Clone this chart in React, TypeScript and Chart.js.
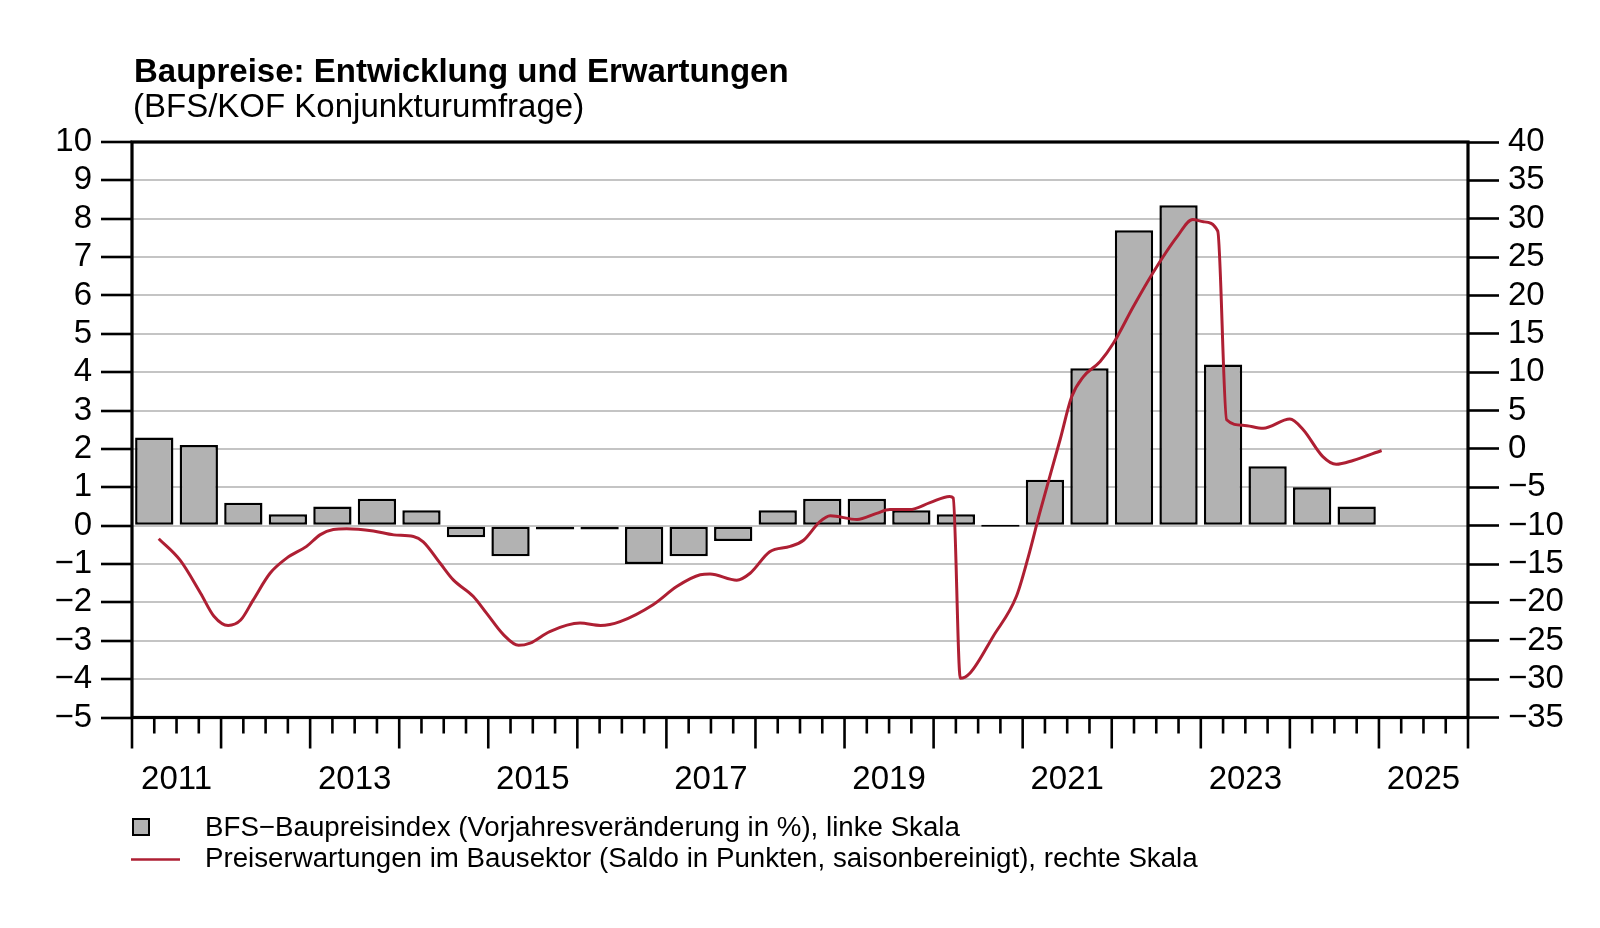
import React, { useEffect, useRef } from 'react';
import { Chart, registerables } from 'chart.js';

Chart.register(...registerables);

const FONT = "'Liberation Sans', Arial, Helvetica, sans-serif";

const titleText = 'Baupreise: Entwicklung und Erwartungen';
const subtitleText = '(BFS/KOF Konjunkturumfrage)';
const legendBarsText = 'BFS\u2212Baupreisindex (Vorjahresveränderung in %), linke Skala';
const legendLineText = 'Preiserwartungen im Bausektor (Saldo in Punkten, saisonbereinigt), rechte Skala';

// Half-year periods (centre of each half-year)
const barPeriods = [
  2011.25, 2011.75, 2012.25, 2012.75, 2013.25, 2013.75, 2014.25, 2014.75,
  2015.25, 2015.75, 2016.25, 2016.75, 2017.25, 2017.75, 2018.25, 2018.75,
  2019.25, 2019.75, 2020.25, 2020.75, 2021.25, 2021.75, 2022.25, 2022.75,
  2023.25, 2023.75, 2024.25, 2024.75,
];
// BFS-Baupreisindex, Vorjahresveränderung in % (left scale)
const barValues = [
  2.3, 2.1, 0.6, 0.3, 0.5, 0.7, 0.4, -0.3,
  -0.8, -0.1, -0.1, -1.0, -0.8, -0.4, 0.4, 0.7,
  0.7, 0.4, 0.3, 0.0, 1.2, 4.1, 7.7, 8.35,
  4.2, 1.55, 1.0, 0.5,
];

// Preiserwartungen im Bausektor (right scale)
const lineX = [
  2011.30, 2011.54, 2011.77, 2011.92, 2012.08, 2012.22, 2012.36, 2012.55, 2012.74, 2012.96,
  2013.11, 2013.26, 2013.41, 2013.71, 2013.94, 2014.16, 2014.27, 2014.46, 2014.61, 2014.83,
  2014.98, 2015.17, 2015.34, 2015.47, 2015.69, 2016.03, 2016.26, 2016.48, 2016.85, 2017.12,
  2017.38, 2017.49, 2017.79, 2017.94, 2018.16, 2018.39, 2018.54, 2018.72, 2018.84, 2019.14,
  2019.36, 2019.51, 2019.73, 2019.96, 2020.18, 2020.22, 2020.30, 2020.41, 2020.67, 2020.93,
  2021.06, 2021.19, 2021.42, 2021.55, 2021.68, 2021.87, 2022.02, 2022.24, 2022.46, 2022.73,
  2022.91, 2023.03, 2023.19, 2023.29, 2023.47, 2023.70, 2024.00, 2024.15, 2024.37, 2024.52,
  2024.71, 2025.03,
];
const lineValues = [
  -11.7, -14.5, -18.8, -21.8, -23.0, -22.3, -19.7, -16.2, -14.2, -12.7,
  -11.2, -10.5, -10.4, -10.7, -11.2, -11.4, -12.1, -14.9, -17.1, -19.2,
  -21.4, -24.2, -25.6, -25.3, -23.8, -22.7, -23.0, -22.5, -20.3, -17.9,
  -16.4, -16.3, -17.1, -16.2, -13.4, -12.7, -11.9, -9.5, -8.7, -9.2,
  -8.4, -7.9, -7.9, -7.0, -6.2, -6.4, -29.9, -29.2, -24.4, -19.2,
  -14.2, -8.4, 1.2, 6.8, 9.4, 11.4, 13.8, 18.5, 22.9, 27.6,
  29.9, 29.6, 28.4, 3.8, 3.1, 2.7, 3.9, 2.5, -1.0, -2.0,
  -1.5, -0.2,
];

// Year labels, placed in the middle of each labelled year
const yearLabels = [2011, 2013, 2015, 2017, 2019, 2021, 2023, 2025];

const xMin = 2011;
const xMax = 2026;
const leftMin = -5;
const leftMax = 10;
const rightMin = -35;
const rightMax = 40;

const BAR_FILL = '#b2b2b2';
const LINE_COLOR = '#ae1f33';
const TICK_FONT = 33;

const fmt = (v: number) => String(v).replace('-', '\u2212');

const decorPlugin = {
  id: 'decor',
  afterDraw(chart: any) {
    const { ctx, chartArea: a, scales } = chart;
    const x = scales.x;
    ctx.save();
    // x-axis tick marks: years (long) and quarters (short)
    ctx.strokeStyle = '#000';
    ctx.lineWidth = 2.6;
    for (let q = xMin * 4; q <= xMax * 4; q++) {
      const px = x.getPixelForValue(q / 4);
      const len = q % 4 === 0 ? 31 : 16;
      ctx.beginPath();
      ctx.moveTo(px, a.bottom);
      ctx.lineTo(px, a.bottom + len);
      ctx.stroke();
    }
    // frame
    ctx.lineWidth = 3.2;
    ctx.strokeRect(a.left, a.top, a.right - a.left, a.bottom - a.top);

    // title + subtitle
    ctx.fillStyle = '#000';
    ctx.textAlign = 'left';
    ctx.textBaseline = 'alphabetic';
    ctx.font = `bold 33px ${FONT}`;
    ctx.fillText(titleText, a.left + 2, a.top - 60.5);
    ctx.font = `33px ${FONT}`;
    ctx.fillText(subtitleText, a.left + 1, a.top - 25.5);

    // legend
    ctx.fillStyle = BAR_FILL;
    ctx.fillRect(a.left + 1, a.bottom + 101.5, 16, 16);
    ctx.lineWidth = 2;
    ctx.strokeStyle = '#000';
    ctx.strokeRect(a.left + 1, a.bottom + 101.5, 16, 16);
    ctx.strokeStyle = LINE_COLOR;
    ctx.lineWidth = 2.4;
    ctx.beginPath();
    ctx.moveTo(a.left - 1, a.bottom + 142);
    ctx.lineTo(a.left + 48, a.bottom + 142);
    ctx.stroke();
    ctx.fillStyle = '#000';
    ctx.font = `27.7px ${FONT}`;
    ctx.fillText(legendBarsText, a.left + 73, a.bottom + 118.5);
    ctx.fillText(legendLineText, a.left + 73, a.bottom + 149.5);
    ctx.restore();
  },
};

export default function App() {
  const canvasRef = useRef<HTMLCanvasElement | null>(null);

  useEffect(() => {
    if (!canvasRef.current) return;
    Chart.defaults.font.family = FONT;
    const chart = new Chart(canvasRef.current, {
      type: 'bar',
      data: {
        datasets: [
          {
            type: 'line',
            label: legendLineText,
            data: lineX.map((v, i) => ({ x: v, y: lineValues[i] })),
            xAxisID: 'x',
            yAxisID: 'y2',
            borderColor: LINE_COLOR,
            borderWidth: 3,
            pointRadius: 0,
            fill: false,
            cubicInterpolationMode: 'monotone',
            order: 0,
          } as any,
          {
            type: 'bar',
            label: legendBarsText,
            data: barPeriods.map((v, i) => ({ x: v, y: barValues[i] })),
            xAxisID: 'x',
            yAxisID: 'y',
            backgroundColor: BAR_FILL,
            borderColor: '#000',
            borderWidth: 2.5,
            borderSkipped: false,
            minBarLength: 2,
            categoryPercentage: 1,
            barPercentage: 0.86,
            order: 1,
          } as any,
        ],
      },
      options: {
        responsive: false,
        animation: false,
        events: [],
        layout: { padding: { top: 142, left: 0, right: 0, bottom: 0 } },
        plugins: {
          legend: { display: false },
          title: { display: false },
          tooltip: { enabled: false },
        },
        scales: {
          x: {
            type: 'linear',
            position: 'bottom',
            offset: false,
            min: xMin,
            max: xMax,
            grid: { display: false, drawTicks: false, offset: false },
            border: { display: false },
            afterBuildTicks: (scale: any) => {
              scale.ticks = yearLabels.map((y) => ({ value: y + 0.5 }));
            },
            afterFit: (scale: any) => {
              scale.height = 210.5;
            },
            ticks: {
              autoSkip: false,
              maxRotation: 0,
              minRotation: 0,
              padding: 43,
              color: '#000',
              font: { size: TICK_FONT, family: FONT },
              callback: (v: any) => String(Math.floor(Number(v))),
            },
          },
          y: {
            type: 'linear',
            position: 'left',
            min: leftMin,
            max: leftMax,
            grid: {
              color: '#c4c4c4',
              lineWidth: 2,
              drawTicks: true,
              tickLength: 31,
              tickColor: '#000',
              tickWidth: 2.6,
            },
            border: { display: false },
            afterFit: (scale: any) => {
              scale.width = 132;
            },
            ticks: {
              stepSize: 1,
              autoSkip: false,
              padding: 9,
              color: '#000',
              font: { size: TICK_FONT, family: FONT },
              callback: (v: any) => fmt(Number(v)),
            },
          },
          y2: {
            type: 'linear',
            position: 'right',
            min: rightMin,
            max: rightMax,
            grid: {
              drawOnChartArea: false,
              drawTicks: true,
              tickLength: 31,
              tickColor: '#000',
              tickWidth: 2.6,
            },
            border: { display: false },
            afterFit: (scale: any) => {
              scale.width = 132;
            },
            ticks: {
              stepSize: 5,
              autoSkip: false,
              padding: 9,
              color: '#000',
              font: { size: TICK_FONT, family: FONT },
              callback: (v: any) => fmt(Number(v)),
            },
          },
        },
      } as any,
      plugins: [decorPlugin],
    });
    return () => chart.destroy();
  }, []);

  return (
    <div style={{ position: 'absolute', left: 0, top: 0, width: 1600, height: 928, background: '#fff' }}>
      <canvas ref={canvasRef} width={1600} height={928} style={{ display: 'block' }} />
    </div>
  );
}
